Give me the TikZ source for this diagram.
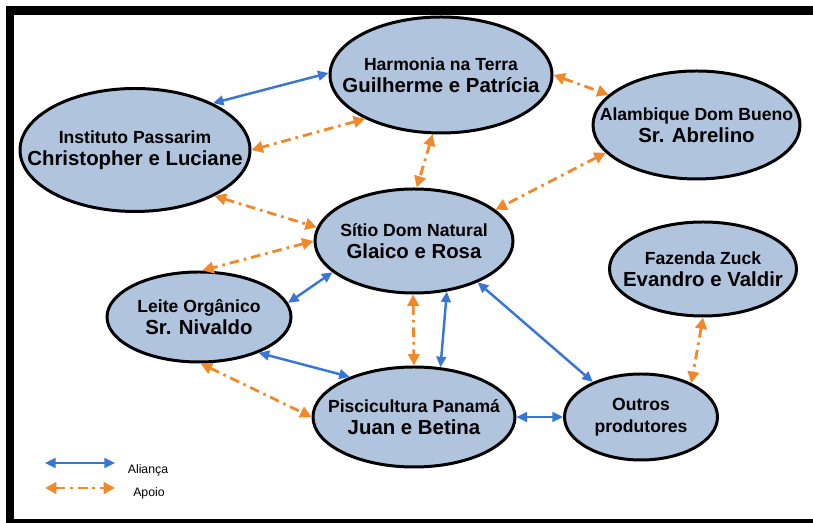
\documentclass[tikz,border=0pt]{standalone}
\usepackage{fontspec}
\setmainfont{Liberation Sans}
\usetikzlibrary{shapes.geometric,arrows.meta}

\definecolor{nodefill}{RGB}{176,196,222}
\definecolor{aliancablue}{RGB}{56,118,212}
\definecolor{apoioorange}{RGB}{241,136,41}

\begin{document}
\begin{tikzpicture}[
    % Farm ellipses (negative inner sep so the size is set by minimum width/height)
    farm/.style={ellipse, draw=black, line width=1.7pt, fill=nodefill, inner sep=-0.6cm, align=center, font=\fontsize{10}{12.5}\selectfont\bfseries},
    % Connector styles
    alianca/.style={{Triangle[length=6pt,width=5.5pt]}-{Triangle[length=6pt,width=5.5pt]}, line width=1.4pt, aliancablue},
    apoio/.style={{Triangle[length=6.5pt,width=6.5pt]}-{Triangle[length=6.5pt,width=6.5pt]}, line width=1.6pt, apoioorange, dash pattern=on 5.5pt off 2.8pt on 1.5pt off 2.8pt},
    legenda/.style={font=\fontsize{7}{8}\selectfont, inner sep=1pt},
]
\useasboundingbox (0,0) rectangle (16.26,10.46);

% Frame
\draw[line width=0.17cm] (0.2,10.25) -- (16.8,10.25);
\draw[line width=0.17cm] (0.2,10.335) -- (0.2,-0.01) -- (16.8,-0.01);

% === FARMS ===
\node[farm, minimum width=4.44cm, minimum height=2.32cm] (harmonia) at (8.82, 8.96) {Harmonia na Terra\\{\fontsize{11.6}{13}\selectfont Guilherme e Patrícia}};
\node[farm, minimum width=4.6cm, minimum height=2.46cm] (passarim) at (2.70, 7.46) {Instituto Passarim\\{\fontsize{11.6}{13}\selectfont Christopher e Luciane}};
\node[farm, minimum width=4.14cm, minimum height=2.16cm] (alambique) at (13.93, 7.96) {Alambique Dom Bueno\\{\fontsize{11.6}{13}\selectfont Sr. Abrelino}};
\node[farm, minimum width=3.96cm, minimum height=2.08cm] (sitio) at (8.28, 5.64) {Sítio Dom Natural\\{\fontsize{11.6}{13}\selectfont Glaico e Rosa}};
\node[farm, minimum width=3.74cm, minimum height=1.88cm] (zuck) at (14.06, 5.08) {Fazenda Zuck\\{\fontsize{11.6}{13}\selectfont Evandro e Valdir}};
\node[farm, minimum width=3.68cm, minimum height=1.8cm] (leite) at (3.98, 4.12) {Leite Orgânico\\{\fontsize{11.6}{13}\selectfont Sr. Nivaldo}};
\node[farm, minimum width=4.04cm, minimum height=2.0cm] (piscicultura) at (8.28, 2.12) {Piscicultura Panamá\\{\fontsize{11.6}{13}\selectfont Juan e Betina}};
\node[farm, minimum width=3.06cm, minimum height=1.72cm] (outros) at (12.82, 2.12) {Outros\\produtores};

% === ALIANCA ===
\draw[alianca] (harmonia.179) -- (passarim.31);
\draw[alianca] (sitio.201) -- (leite.9);
\draw[alianca] (leite.329) -- (piscicultura.148);
\draw[alianca] (sitio.303) -- (piscicultura.62);
\draw[alianca] (sitio.327) -- (outros.144);
\draw[alianca] (piscicultura.0) -- (outros.180);

% === APOIO ===
\draw[apoio] (harmonia.0) -- (alambique.161);
\draw[apoio] (harmonia.210) -- (passarim.0);
\draw[apoio] (harmonia.262) -- (sitio.87);
\draw[apoio] (alambique.197) -- (sitio.21);
\draw[apoio] (passarim.330) -- (sitio.172);
\draw[apoio] (sitio.180) -- (leite.86);
\draw[apoio] (sitio.269) -- (piscicultura.90);
\draw[apoio] (leite.272) -- (piscicultura.180);
\draw[apoio] (zuck.270) -- (outros.34);

% === LEGEND ===
\coordinate (la1) at (0.9, 1.2);
\coordinate (la2) at (2.3, 1.2);
\coordinate (lb1) at (0.9, 0.7);
\coordinate (lb2) at (2.3, 0.7);
\draw[alianca] (la1) -- (la2);
\draw[apoio] (lb1) -- (lb2);
\node[legenda] (txtalianca) at (2.96, 1.06) {Aliança};
\node[legenda] (txtapoio) at (2.98, 0.6) {Apoio};

\end{tikzpicture}
\end{document}
